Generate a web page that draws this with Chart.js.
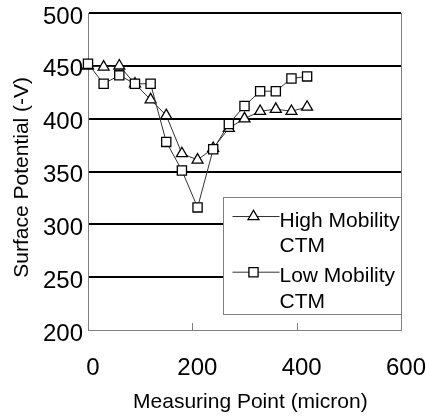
<!DOCTYPE html>
<html>
<head>
<meta charset="utf-8">
<script src="https://cdn.jsdelivr.net/npm/chart.js@4.4.0/dist/chart.umd.min.js"></script>
<style>
html, body { margin: 0; padding: 0; background: #fff; overflow: hidden; }
canvas { display: block; }
</style>
</head>
<body>
<canvas id="potencialChart" width="426" height="416"></canvas>
<script>
// puntos de medida (micron) y potencial superficial (-V)
const puntos = [0, 30, 60, 90, 120, 150, 180, 210, 240, 270, 300, 330, 360, 390, 420];
const altaMovilidad = [450, 449, 450, 433, 418, 403, 367, 361, 372, 391, 400, 407, 409, 407, 411];
const bajaMovilidad = [452, 433, 441, 433, 433, 378, 351, 316, 371, 395, 412, 426, 426, 438, 440];

const ticksX = [0, 200, 400, 600];
const ticksY = [200, 250, 300, 350, 400, 450, 500];

const nombreAlta = ['High Mobility', 'CTM'];
const nombreBaja = ['Low Mobility', 'CTM'];

Chart.defaults.font.family = '"Liberation Sans", Arial, sans-serif';
Chart.defaults.color = '#000';

function aPares(valores) {
    return puntos.map((x, i) => ({ x: x, y: valores[i] }));
}

// marcas cortas hacia dentro en el eje X
const marcasInternas = {
    id: 'marcasInternas',
    afterDatasetsDraw(chart) {
        const ctx = chart.ctx;
        const sx = chart.scales.x;
        const abajo = chart.chartArea.bottom;
        ctx.save();
        ctx.strokeStyle = '#808080';
        ctx.lineWidth = 1;
        ticksX.slice(1, -1).forEach(v => {
            const px = Math.round(sx.getPixelForValue(v)) + 0.5;
            ctx.beginPath();
            ctx.moveTo(px, abajo);
            ctx.lineTo(px, abajo - 7);
            ctx.stroke();
        });
        ctx.restore();
    }
};

// leyenda en recuadro dentro del area del grafico
const leyendaCaja = {
    id: 'leyendaCaja',
    afterDraw(chart) {
        const ctx = chart.ctx;
        const area = chart.chartArea;
        const ancho = 178, alto = 117;
        const izq = Math.round(area.right - ancho) + 0.5;
        const arriba = Math.round(area.bottom - 16 - alto) + 0.5;
        ctx.save();
        ctx.fillStyle = '#fff';
        ctx.strokeStyle = '#808080';
        ctx.lineWidth = 1;
        ctx.fillRect(izq, arriba, ancho, alto);
        ctx.strokeRect(izq, arriba, ancho, alto);

        const filas = [
            { ds: chart.data.datasets[0], lineas: nombreAlta, y: 19 },
            { ds: chart.data.datasets[1], lineas: nombreBaja, y: 74.7 }
        ];
        ctx.font = '21px "Liberation Sans", Arial, sans-serif';
        ctx.textBaseline = 'alphabetic';
        filas.forEach(f => {
            const my = arriba + f.y;
            ctx.strokeStyle = f.ds.borderColor;
            ctx.lineWidth = 1;
            ctx.beginPath();
            ctx.moveTo(izq + 9, my);
            ctx.lineTo(izq + 56, my);
            ctx.stroke();
            ctx.fillStyle = '#fff';
            ctx.strokeStyle = '#000';
            ctx.lineWidth = f.ds.pointBorderWidth;
            Chart.helpers.drawPoint(ctx, {
                pointStyle: f.ds.pointStyle,
                radius: f.ds.pointRadius,
                borderWidth: f.ds.pointBorderWidth,
                rotation: 0
            }, izq + 30, my);
            ctx.fillStyle = '#000';
            f.lineas.forEach((t, i) => {
                ctx.fillText(t, izq + 56, my + 10 + i * 25.7);
            });
        });
        ctx.restore();
    }
};

function fijarTamano(medida, valor) {
    return function(scale) {
        scale[medida] = valor;
        scale.paddingTop = 0;
        scale.paddingBottom = 0;
        scale.paddingLeft = 0;
        scale.paddingRight = 0;
    };
}

const ctx = document.getElementById('potencialChart').getContext('2d');

new Chart(ctx, {
    type: 'line',
    data: {
        datasets: [{
            label: nombreAlta.join(' '),
            data: aPares(altaMovilidad),
            borderColor: '#333',
            borderWidth: 1,
            pointStyle: 'triangle',
            pointRadius: 6.3,
            pointBorderWidth: 1.3,
            pointBackgroundColor: '#fff',
            pointBorderColor: '#000',
            tension: 0,
            clip: false,
            order: 1
        }, {
            label: nombreBaja.join(' '),
            data: aPares(bajaMovilidad),
            borderColor: '#333',
            borderWidth: 1,
            pointStyle: 'rect',
            pointRadius: 6.5,
            pointBorderWidth: 1.3,
            pointBackgroundColor: '#fff',
            pointBorderColor: '#000',
            tension: 0,
            clip: false,
            order: 0
        }]
    },
    options: {
        responsive: false,
        animation: false,
        layout: { padding: { left: 0, top: 13, right: 25, bottom: 0 } },
        plugins: {
            legend: { display: false },
            tooltip: { enabled: false }
        },
        scales: {
            x: {
                type: 'linear',
                min: 0,
                max: 600,
                afterBuildTicks: s => { s.ticks = ticksX.map(v => ({ value: v })); },
                afterFit: fijarTamano('height', 86),
                border: { display: true, color: '#808080', width: 1 },
                grid: {
                    drawTicks: false,
                    color: c => (c.tick && c.tick.value === 600 ? '#808080' : 'rgba(0,0,0,0)'),
                    lineWidth: 1
                },
                ticks: {
                    font: { size: 24 },
                    padding: 24,
                    labelOffset: 5,
                    maxRotation: 0,
                    autoSkip: false
                },
                title: {
                    display: true,
                    text: '  Measuring Point (micron)',
                    font: { size: 21 },
                    padding: { top: 0, bottom: 1 }
                }
            },
            y: {
                min: 200,
                max: 500,
                afterBuildTicks: s => { s.ticks = ticksY.map(v => ({ value: v })); },
                afterFit: fijarTamano('width', 88),
                border: { display: true, color: '#808080', width: 1 },
                grid: {
                    drawTicks: false,
                    color: c => (c.tick && c.tick.value === 200 ? 'rgba(0,0,0,0)' : '#000'),
                    lineWidth: 2
                },
                ticks: {
                    font: { size: 24 },
                    padding: 5,
                    labelOffset: 4,
                    autoSkip: false
                },
                title: {
                    display: true,
                    text: 'Surface Potential (-V)  ',
                    font: { size: 21 },
                    padding: { top: 10, bottom: 0 }
                }
            }
        }
    },
    plugins: [marcasInternas, leyendaCaja]
});
</script>
</body>
</html>
